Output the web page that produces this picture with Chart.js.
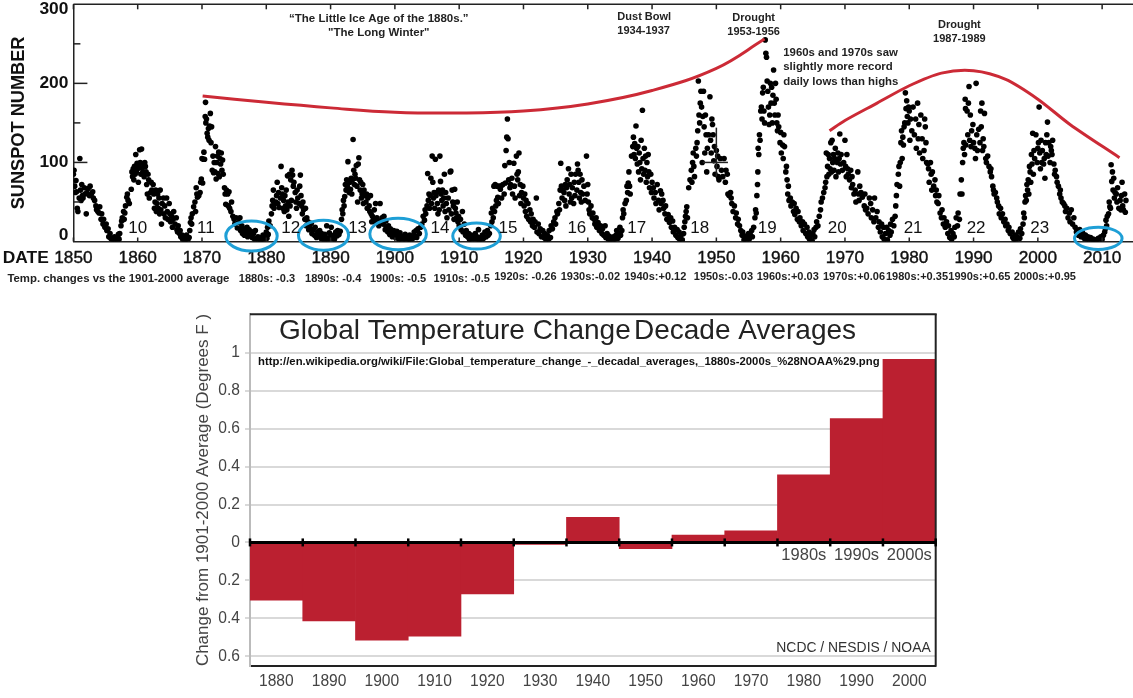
<!DOCTYPE html>
<html>
<head>
<meta charset="utf-8">
<title>Sunspot number and global temperature change</title>
<script src="https://cdn.jsdelivr.net/npm/chart.js@4"></script>
<style>
  body { margin: 0; background: #fff; }
  canvas { position: absolute; left: 0; }
  #sunspot-chart { top: 0; }
  #temp-chart { top: 300px; }
</style>
</head>
<body>
<canvas id="sunspot-chart" width="1133" height="300"></canvas>
<canvas id="temp-chart" width="1133" height="398"></canvas>
<script>
// year, value, year, value ..., one list per solar cycle
var spots09 = [1850.0,85,1850.1,90,1850.2,70,1850.3,62,1850.4,77,1850.5,63,1850.6,42,1850.7,38,1850.9,55,1851.0,105,1851.1,65,1851.2,52,1851.3,72,1851.4,58,1851.5,55,1851.7,68,1851.8,60,1852.0,35,1852.1,62,1852.3,67,1852.5,58,1852.6,70,1852.8,60,1853.0,63,1853.1,55,1853.3,52,1853.5,45,1853.6,40,1853.8,38,1854.0,36,1854.1,44,1854.3,28,1854.4,35,1854.6,22,1854.7,28,1854.9,18,1855.1,22,1855.2,14,1855.4,16,1855.5,6,1855.7,10,1855.8,4,1856.0,3,1856.2,1,1856.4,6,1856.5,2,1856.7,5,1856.9,2,1857.0,9,1857.1,3];
var spots10 = [1857.2,10,1857.4,20,1857.5,26,1857.6,30,1857.8,38,1857.9,28,1858.0,36,1858.1,45,1858.3,56,1858.4,60,1858.5,52,1858.7,48,1859.0,66,1859.1,88,1859.2,82,1859.3,92,1859.4,78,1859.5,95,1859.6,85,1859.7,110,1859.8,88,1859.9,99,1860.0,92,1860.1,75,1860.2,96,1860.3,116,1860.4,100,1860.5,85,1860.6,117,1860.7,93,1860.8,88,1860.9,98,1861.0,82,1861.1,100,1861.2,95,1861.3,88,1861.4,72,1861.5,60,1861.6,85,1861.7,78,1861.8,55,1862.0,62,1862.1,75,1862.2,65,1862.4,72,1862.5,60,1862.6,42,1862.7,50,1862.8,65,1862.9,38,1863.0,48,1863.1,60,1863.2,42,1863.3,55,1863.4,35,1863.5,65,1863.6,40,1863.7,22,1863.8,48,1864.0,55,1864.1,35,1864.2,45,1864.3,30,1864.5,55,1864.6,38,1864.7,28,1864.9,48,1865.0,35,1865.1,25,1865.3,32,1865.4,18,1865.5,28,1865.6,38,1865.8,22,1866.0,30,1866.1,15,1866.2,12,1866.3,20,1866.5,10,1866.6,14,1866.7,6,1866.9,8,1867.0,3,1867.2,6,1867.3,1,1867.5,3,1867.6,8,1867.8,2];
var spots11 = [1868.0,5,1868.1,14,1868.2,24,1868.3,30,1868.4,22,1868.5,35,1868.7,44,1868.9,50,1869.0,38,1869.1,68,1869.2,60,1869.3,56,1869.5,58,1869.7,62,1869.8,75,1869.9,79,1870.0,105,1870.1,74,1870.2,104,1870.3,113,1870.4,104,1870.5,158,1870.55,176,1870.6,150,1870.7,155,1870.8,137,1870.9,132,1871.0,143,1871.1,128,1871.2,146,1871.3,162,1871.4,125,1871.5,145,1871.6,90,1871.7,108,1871.8,87,1871.9,100,1872.0,88,1872.1,120,1872.2,79,1872.3,100,1872.4,108,1872.5,86,1872.6,113,1872.7,82,1872.8,105,1872.9,98,1873.0,112,1873.1,90,1873.2,103,1873.3,85,1873.5,68,1873.6,60,1873.7,47,1873.8,65,1874.0,60,1874.1,45,1874.2,63,1874.3,42,1874.5,38,1874.6,50,1874.8,32,1875.0,28,1875.1,22,1875.3,30,1875.5,17,1875.7,24,1875.9,30,1876.0,14,1876.2,20,1876.3,10,1876.5,16,1876.6,8,1876.8,12,1877.0,18,1877.1,6,1877.3,15,1877.4,9,1877.6,13,1877.8,5,1878.0,10,1878.2,3,1878.3,14,1878.5,4,1878.7,6,1878.8,2,1879.0,5,1879.1,1,1879.3,3,1879.5,8,1879.6,2,1879.8,7,1880.0,12,1880.1,4,1880.2,18,1880.3,9];
var spots12 = [1880.4,26,1880.6,20,1880.8,35,1880.9,45,1881.0,52,1881.1,65,1881.2,42,1881.3,48,1881.5,50,1881.6,58,1881.7,75,1881.8,48,1881.9,62,1882.0,43,1882.2,55,1882.3,95,1882.4,68,1882.5,60,1882.6,42,1882.7,52,1882.8,38,1882.9,58,1883.0,45,1883.1,65,1883.2,40,1883.3,83,1883.4,50,1883.5,32,1883.6,85,1883.7,45,1883.8,78,1883.9,52,1884.0,90,1884.1,84,1884.2,70,1884.3,75,1884.5,62,1884.6,50,1884.7,42,1884.8,65,1884.9,55,1885.1,48,1885.2,70,1885.3,84,1885.4,58,1885.5,45,1885.6,35,1885.7,50,1885.8,40,1886.0,28,1886.1,42,1886.2,20,1886.3,30,1886.5,25,1886.6,15,1886.8,18,1887.0,23,1887.1,10,1887.3,15,1887.5,8,1887.6,18,1887.8,5,1888.0,12,1888.1,7,1888.3,14,1888.5,4,1888.6,10,1888.8,6,1889.0,2,1889.1,9,1889.3,5,1889.4,20,1889.6,3,1889.8,11,1890.0,6,1890.1,18,1890.3,4,1890.5,8,1890.6,3,1890.8,12,1891.0,7,1891.1,14,1891.3,9,1891.5,13];
var spots13 = [1891.7,28,1891.8,40,1891.9,35,1892.0,52,1892.1,45,1892.2,57,1892.3,72,1892.4,65,1892.5,78,1892.6,70,1892.7,101,1892.9,62,1893.0,75,1893.1,66,1893.2,80,1893.3,60,1893.4,78,1893.5,129,1893.6,90,1893.7,72,1893.8,85,1893.9,80,1894.0,96,1894.1,70,1894.2,50,1894.3,98,1894.4,106,1894.5,78,1894.6,65,1894.7,75,1894.8,55,1894.9,60,1895.0,72,1895.1,48,1895.2,65,1895.3,58,1895.5,50,1895.6,60,1895.7,42,1895.8,55,1896.0,45,1896.1,38,1896.2,58,1896.3,35,1896.4,25,1896.5,32,1896.7,28,1896.8,40,1896.9,25,1897.0,48,1897.2,30,1897.4,26,1897.5,20,1897.7,48,1897.8,26,1898.0,30,1898.2,22,1898.3,32,1898.5,15,1898.6,26,1898.7,18,1898.9,12,1899.0,20,1899.2,9,1899.3,16,1899.5,12,1899.6,6,1899.8,14,1900.0,10,1900.1,5,1900.3,13,1900.5,8,1900.6,3,1900.8,11,1901.0,6,1901.1,2,1901.3,7,1901.5,4,1901.6,9,1901.8,1,1902.0,5,1902.2,3,1902.3,8,1902.5,2,1902.7,6,1902.8,4,1903.0,12,1903.1,7,1903.3,14,1903.4,5,1903.6,16,1903.8,10,1904.0,18];
var spots14 = [1904.2,22,1904.4,32,1904.6,27,1904.7,40,1904.8,35,1905.0,45,1905.1,86,1905.2,52,1905.3,60,1905.4,42,1905.5,58,1905.6,80,1905.7,48,1905.8,108,1905.9,75,1906.0,55,1906.1,62,1906.2,42,1906.3,104,1906.4,58,1906.5,62,1906.6,48,1906.7,35,1906.8,65,1906.9,40,1907.0,108,1907.1,76,1907.2,60,1907.3,52,1907.4,65,1907.5,45,1907.6,55,1907.7,85,1907.8,38,1907.9,62,1908.0,48,1908.1,30,1908.3,55,1908.4,40,1908.6,88,1908.7,89,1908.8,35,1908.9,65,1909.0,50,1909.1,45,1909.2,28,1909.3,66,1909.4,42,1909.5,36,1909.6,30,1909.7,50,1909.8,25,1909.9,32,1910.0,20,1910.2,28,1910.3,15,1910.5,38,1910.6,12,1910.8,22,1911.0,8,1911.1,14,1911.3,6,1911.5,10,1911.6,3,1911.8,8,1912.0,2,1912.2,7,1912.3,4,1912.5,10,1912.7,3,1912.8,6,1913.0,15,1913.1,2,1913.3,5,1913.4,1,1913.6,8,1913.8,4,1914.0,12,1914.2,6,1914.4,14,1914.5,8,1914.7,10];
var spots15 = [1914.9,20,1915.0,36,1915.1,25,1915.2,42,1915.3,30,1915.4,70,1915.5,38,1915.6,72,1915.7,45,1915.8,52,1915.9,70,1916.0,56,1916.1,48,1916.2,70,1916.4,66,1916.5,70,1916.6,55,1916.8,72,1917.0,60,1917.1,96,1917.2,74,1917.3,115,1917.4,132,1917.5,155,1917.6,130,1917.7,78,1917.8,100,1917.9,68,1918.0,72,1918.2,80,1918.3,60,1918.5,99,1918.6,70,1918.7,55,1918.9,108,1919.0,85,1919.1,78,1919.2,88,1919.3,112,1919.4,58,1919.5,72,1919.6,48,1919.7,62,1919.9,70,1920.0,55,1920.1,45,1920.2,60,1920.3,38,1920.4,52,1920.5,32,1920.7,48,1920.8,28,1921.0,40,1921.1,25,1921.2,35,1921.4,20,1921.5,28,1921.7,18,1921.8,25,1922.0,55,1922.1,12,1922.3,22,1922.4,10,1922.6,16,1922.8,6,1923.0,14,1923.2,5,1923.3,10,1923.5,2,1923.7,8,1923.9,3,1924.0,14,1924.2,5,1924.3,20];
var spots16 = [1924.5,16,1924.7,25,1924.9,30,1925.0,22,1925.2,38,1925.3,35,1925.5,48,1925.6,40,1925.7,65,1925.8,99,1925.9,70,1926.0,55,1926.1,65,1926.3,62,1926.4,52,1926.5,72,1926.6,45,1926.7,68,1926.8,78,1927.0,92,1927.1,60,1927.2,72,1927.3,50,1927.4,85,1927.5,55,1927.6,68,1927.8,48,1927.9,75,1928.0,58,1928.1,85,1928.3,65,1928.4,98,1928.5,90,1928.6,75,1928.7,55,1928.8,85,1928.9,62,1929.0,50,1929.1,78,1929.2,60,1929.4,70,1929.6,52,1929.8,108,1929.9,60,1930.0,72,1930.1,50,1930.2,40,1930.3,35,1930.5,45,1930.7,30,1930.8,36,1931.0,28,1931.1,22,1931.3,30,1931.4,18,1931.6,24,1931.8,14,1932.0,20,1932.2,10,1932.3,16,1932.5,8,1932.7,20,1932.8,5,1933.0,10,1933.2,3,1933.3,7,1933.5,2,1933.7,5,1933.9,1,1934.0,6,1934.2,3,1934.4,8,1934.5,14,1934.7,4,1934.8,10,1935.0,18,1935.1,8,1935.3,14];
var spots17 = [1935.4,30,1935.5,40,1935.6,35,1935.8,48,1936.0,52,1936.1,70,1936.2,62,1936.3,74,1936.4,88,1936.5,70,1936.6,60,1936.8,108,1937.0,120,1937.1,132,1937.2,110,1937.3,124,1937.4,105,1937.5,146,1937.6,118,1937.7,98,1937.8,120,1937.9,88,1938.0,112,1938.1,100,1938.2,78,1938.3,128,1938.4,92,1938.5,166,1938.6,105,1938.7,85,1938.8,118,1938.9,90,1939.0,108,1939.1,75,1939.2,100,1939.3,82,1939.4,110,1939.5,88,1939.6,68,1939.8,85,1939.9,62,1940.0,75,1940.2,68,1940.3,55,1940.5,62,1940.6,48,1940.8,72,1941.0,52,1941.1,40,1941.3,64,1941.4,48,1941.5,60,1941.7,52,1941.8,42,1942.0,35,1942.1,45,1942.3,28,1942.5,34,1942.7,24,1942.9,30,1943.0,18,1943.2,26,1943.3,12,1943.5,18,1943.7,8,1943.9,15,1944.0,5,1944.2,12,1944.3,3,1944.5,8,1944.7,2];
var spots18 = [1944.9,10,1945.0,18,1945.1,25,1945.2,32,1945.3,38,1945.4,44,1945.5,30,1945.7,68,1945.9,78,1946.1,90,1946.2,75,1946.3,100,1946.4,112,1946.5,95,1946.6,82,1946.8,118,1946.9,108,1947.0,125,1947.1,140,1947.2,203,1947.3,160,1947.4,150,1947.5,175,1947.6,190,1947.7,170,1947.8,100,1947.9,158,1948.0,190,1948.1,145,1948.2,112,1948.3,160,1948.4,135,1948.5,88,1948.6,118,1948.8,135,1949.0,183,1949.1,128,1949.2,112,1949.3,155,1949.4,148,1949.5,135,1949.6,102,1949.7,120,1949.8,85,1950.0,115,1950.1,95,1950.2,108,1950.3,82,1950.4,78,1950.6,105,1950.8,90,1951.0,82,1951.2,105,1951.4,75,1951.5,90,1951.7,85,1951.8,60,1952.0,58,1952.2,62,1952.3,55,1952.4,48,1952.6,38,1952.8,45,1953.0,30,1953.1,36,1953.3,22,1953.4,28,1953.6,20,1953.8,14,1954.0,8,1954.1,12,1954.3,2,1954.5,7,1954.6,0,1954.8,5,1955.0,10,1955.1,3,1955.3,8,1955.5,14,1955.6,6,1955.8,18];
var spots19 = [1956.0,30,1956.1,40,1956.2,36,1956.3,58,1956.4,72,1956.45,88,1956.5,118,1956.6,110,1956.7,135,1956.8,128,1956.9,165,1957.0,170,1957.1,155,1957.2,188,1957.3,195,1957.4,165,1957.5,150,1957.6,255,1957.7,238,1957.8,233,1957.9,203,1958.0,190,1958.1,170,1958.2,148,1958.3,160,1958.4,200,1958.5,175,1958.6,195,1958.7,150,1958.8,185,1958.9,217,1959.0,175,1959.1,160,1959.2,200,1959.3,180,1959.4,150,1959.5,140,1959.6,160,1959.7,145,1959.9,125,1960.0,138,1960.1,112,1960.3,122,1960.4,105,1960.5,135,1960.6,120,1960.8,88,1960.9,95,1961.0,78,1961.1,60,1961.2,70,1961.3,52,1961.5,55,1961.6,45,1961.8,50,1962.0,38,1962.1,48,1962.2,34,1962.4,42,1962.6,28,1962.7,38,1962.9,25,1963.0,30,1963.2,20,1963.4,25,1963.5,14,1963.7,22,1963.9,10,1964.1,18,1964.2,6,1964.4,12,1964.5,3,1964.7,8,1964.9,1,1965.0,10,1965.2,15,1965.3,6,1965.5,18,1965.6,25,1965.8,20];
var spots20 = [1966.0,32,1966.2,40,1966.3,50,1966.5,55,1966.7,62,1966.9,68,1967.0,75,1967.1,112,1967.2,82,1967.3,95,1967.4,110,1967.5,85,1967.6,105,1967.7,92,1967.8,125,1967.9,88,1968.0,128,1968.1,100,1968.2,110,1968.3,90,1968.4,105,1968.5,118,1968.6,82,1968.8,100,1968.9,112,1969.0,88,1969.1,105,1969.2,136,1969.3,98,1969.4,110,1969.6,90,1969.8,100,1970.0,128,1970.1,95,1970.2,82,1970.3,110,1970.4,92,1970.5,85,1970.7,78,1970.9,90,1971.0,68,1971.1,82,1971.2,72,1971.4,60,1971.6,65,1971.7,50,1972.0,88,1972.1,60,1972.2,52,1972.3,70,1972.5,62,1972.7,56,1973.0,45,1973.1,60,1973.2,40,1973.4,42,1973.6,35,1973.8,55,1974.0,48,1974.1,30,1974.3,40,1974.5,25,1974.6,55,1974.8,30,1975.0,38,1975.2,18,1975.3,25,1975.5,12,1975.7,22,1975.8,6,1976.0,18,1976.1,3,1976.3,10,1976.5,18,1976.6,2,1976.8,14,1977.0,8,1977.1,22,1977.2,12,1977.4,28,1977.6,20];
var spots21 = [1977.8,32,1977.9,45,1978.0,58,1978.1,72,1978.3,85,1978.4,95,1978.5,70,1978.6,100,1978.7,125,1978.8,140,1978.9,105,1979.0,132,1979.1,122,1979.2,145,1979.3,150,1979.4,188,1979.5,168,1979.6,178,1979.7,158,1979.8,150,1979.9,170,1980.0,165,1980.1,128,1980.2,155,1980.4,140,1980.6,170,1980.8,135,1981.0,155,1981.1,118,1981.3,175,1981.4,130,1981.5,148,1981.6,112,1981.8,160,1982.0,130,1982.1,105,1982.3,115,1982.4,155,1982.5,145,1982.6,125,1982.7,100,1982.9,98,1983.0,92,1983.1,75,1983.3,100,1983.4,85,1983.5,65,1983.6,88,1983.8,70,1984.0,78,1984.1,58,1984.2,65,1984.3,50,1984.5,48,1984.6,58,1984.8,36,1985.0,30,1985.1,40,1985.3,22,1985.4,30,1985.6,18,1985.8,25,1986.0,10,1986.1,20,1986.3,5,1986.5,14,1986.6,3,1986.8,10,1987.0,6,1987.1,18,1987.3,30,1987.5,20,1987.6,36,1987.8,28,1987.9,60];
var spots22 = [1988.1,78,1988.2,60,1988.3,100,1988.4,118,1988.5,125,1988.6,110,1988.7,180,1988.75,168,1988.8,122,1989.0,165,1989.1,135,1989.2,175,1989.3,196,1989.4,128,1989.5,160,1989.6,120,1989.7,140,1989.9,148,1990.0,125,1990.2,118,1990.3,105,1990.4,200,1990.5,135,1990.6,115,1990.8,142,1991.0,125,1991.1,165,1991.2,145,1991.3,175,1991.4,115,1991.5,130,1991.6,120,1991.7,162,1991.9,105,1992.0,100,1992.2,108,1992.4,95,1992.6,88,1992.7,92,1992.8,82,1993.0,70,1993.1,65,1993.2,60,1993.4,62,1993.6,55,1993.7,50,1993.9,45,1994.0,35,1994.2,42,1994.3,30,1994.5,35,1994.7,25,1994.9,28,1995.0,20,1995.2,22,1995.4,14,1995.5,18,1995.7,10,1996.0,12,1996.1,5,1996.3,3,1996.5,8,1996.6,1,1996.8,6,1997.0,12,1997.2,4,1997.3,16,1997.5,10];
var spots23 = [1997.7,22,1997.8,36,1997.9,30,1998.0,50,1998.1,58,1998.2,52,1998.3,72,1998.4,65,1998.5,78,1998.6,60,1998.7,95,1998.8,88,1998.9,75,1999.0,110,1999.1,98,1999.2,137,1999.3,85,1999.4,115,1999.5,105,1999.7,135,1999.9,100,2000.0,118,2000.1,125,2000.2,170,2000.3,112,2000.4,92,2000.5,128,2000.6,100,2000.7,115,2000.9,98,2001.0,105,2001.1,80,2001.2,125,2001.3,110,2001.4,135,2001.5,151,2001.6,108,2001.7,125,2001.9,100,2002.0,120,2002.1,115,2002.2,110,2002.3,128,2002.5,98,2002.6,85,2002.7,90,2002.9,82,2003.0,75,2003.2,70,2003.4,60,2003.5,65,2003.6,55,2003.8,50,2004.0,48,2004.2,45,2004.3,38,2004.5,42,2004.7,30,2004.9,36,2005.0,25,2005.2,40,2005.4,22,2005.6,30,2005.8,18,2006.0,12,2006.1,14,2006.3,8,2006.5,15,2006.7,6,2006.9,12,2007.0,10,2007.2,4,2007.4,8,2007.6,3,2007.8,6,2008.0,2,2008.2,5,2008.4,1,2008.6,3,2008.8,2,2009.0,1,2009.2,2,2009.4,4,2009.6,2,2009.8,6,2010.0,3,2010.2,8,2010.4,12];
var spots24 = [2010.5,16,2010.6,27,2010.7,20,2010.8,32,2011.0,35,2011.1,50,2011.2,44,2011.3,42,2011.4,97,2011.5,76,2011.6,88,2011.7,65,2011.8,80,2011.9,55,2012.0,62,2012.2,60,2012.3,50,2012.4,68,2012.6,42,2012.8,52,2012.9,40,2013.0,58,2013.1,75,2013.2,45,2013.3,40,2013.5,60,2013.6,37,2013.7,52];

// the two red curves sketched over the cycle peaks
var redCurveOld = [[1870.1,184],[1880,176],[1890,169],[1900,163.5],[1910,162.5],[1920,165],[1930,174],[1940,191],[1950,219],[1957.5,256]];
var redCurveNew = [[1967.6,140],[1970,153],[1975,175],[1980,197],[1985,213],[1990,216],[1995,205],[2000,180],[2005,148],[2012.7,106]];

var yTickLabels = [0, 100, 200, 300];
var yMajorTicks = [100, 200];
var yMinorTicks = [50, 150, 250];
var cycleNames = ['10','11','12','13','14','15','16','17','18','19','20','21','22','23'];
var cycleYears = [1860,1870.6,1883.8,1894.2,1907,1917.6,1928.3,1937.6,1947.4,1957.9,1968.8,1980.6,1990.4,2000.3];
var tempNotes = ['1880s: -0.3','1890s: -0.4','1900s: -0.5','1910s: -0.5','1920s: -0.26','1930s:-0.02','1940s:+0.12','1950s:-0.03','1960s:+0.03','1970s:+0.06','1980s:+0.35','1990s:+0.65','2000s:+0.95'];
var tempNoteYears = [1880.1,1890.4,1900.5,1910.4,1920.3,1930.4,1940.5,1951.1,1961.1,1971.4,1981.2,1990.9,2001.1];
var tempNoteLevels = [-47,-47,-47,-47,-45,-45,-45,-45,-45,-45,-45,-45,-45];
// centre year, centre value, half width in years, half height in value
var lowRings = [[1877.7,7,4,19],[1888.9,8,3.9,19],[1900.5,9.5,4.4,20],[1912.7,7,3.7,16.5],[2009.4,4,3.7,14]];

var decades = ['1880','1890','1900','1910','1920','1930','1940','1950','1960','1970','1980','1990','2000'];
var decadeChange = [-0.305,-0.414,-0.516,-0.494,-0.272,-0.01,0.133,-0.033,0.039,0.061,0.356,0.653,0.965];
var changeTicks = [-0.6,-0.4,-0.2,0,0.2,0.4,0.6,0.8,1];

var sansFont = "'Liberation Sans', Arial, sans-serif";

function pairs( flat ) {
  var out = [];
  for (var i = 0; i < flat.length; i += 2) {
    out.push( [flat[i], flat[i+1]] );
  }
  return out;
}

function putText( ctx, str, x, y, font, color, align ) {
  ctx.font = font;
  ctx.fillStyle = color;
  ctx.textAlign = align || 'center';
  ctx.textBaseline = 'middle';
  ctx.fillText( str, x, y );
}

function segment( ctx, x1, y1, x2, y2 ) {
  ctx.beginPath();
  ctx.moveTo( x1, y1 );
  ctx.lineTo( x2, y2 );
  ctx.stroke();
}

var sunspotExtras = {
  id: 'sunspotExtras',
  afterDraw: function( chart ) {
    var ctx = chart.ctx, xs = chart.scales.x, ys = chart.scales.y, area = chart.chartArea;
    var boldNote = 'bold 11px ' + sansFont;
    var boldHead = 'bold 11.4px ' + sansFont;
    ctx.save();

    // frame and inward ticks
    ctx.strokeStyle = '#222';
    ctx.lineWidth = 1.5;
    segment( ctx, area.left, area.top, area.right, area.top );
    yMajorTicks.forEach(function( v ) {
      segment( ctx, area.left, ys.getPixelForValue(v), area.left + 14, ys.getPixelForValue(v) );
    });
    yMinorTicks.forEach(function( v ) {
      segment( ctx, area.left, ys.getPixelForValue(v), area.left + 7, ys.getPixelForValue(v) );
    });
    xs.ticks.forEach(function( t ) {
      var px = xs.getPixelForValue( t.value );
      segment( ctx, px, area.top, px, area.top + 5 );
      segment( ctx, px, area.bottom, px, area.bottom - 4 );
    });
    // stray cross left on the 1950 peak in the original
    segment( ctx, xs.getPixelForValue(1950), ys.getPixelForValue(144), xs.getPixelForValue(1950), ys.getPixelForValue(82) );
    segment( ctx, xs.getPixelForValue(1947.9), ys.getPixelForValue(100), xs.getPixelForValue(1951.8), ys.getPixelForValue(100) );

    // blue rings around the quiet minima
    ctx.strokeStyle = '#1e9fd6';
    ctx.lineWidth = 3;
    lowRings.forEach(function( r ) {
      var cx = xs.getPixelForValue( r[0] ), cy = ys.getPixelForValue( r[1] );
      var rx = xs.getPixelForValue( r[0] + r[2] ) - cx, ry = cy - ys.getPixelForValue( r[1] + r[3] );
      ctx.beginPath();
      ctx.ellipse( cx, cy, rx, ry, 0, 0, Math.PI * 2 );
      ctx.stroke();
    });

    // y labels, the end ones pulled inside the frame like the original
    yTickLabels.forEach(function( v ) {
      var dy = v == 0 ? -6 : (v == 300 ? 5 : 0);
      putText( ctx, String(v), area.left - 5, ys.getPixelForValue(v) + dy, 'bold 17.4px ' + sansFont, '#111', 'right' );
    });
    putText( ctx, 'DATE', xs.getPixelForValue(1842.6), ys.getPixelForValue(-21), 'bold 17.4px ' + sansFont, '#111' );

    cycleNames.forEach(function( name, i ) {
      putText( ctx, name, xs.getPixelForValue(cycleYears[i]), ys.getPixelForValue(17), '17px ' + sansFont, '#111' );
    });
    putText( ctx, 'Temp. changes vs the 1901-2000 average', xs.getPixelForValue(1857), ys.getPixelForValue(-47), boldHead, '#222' );
    tempNotes.forEach(function( note, i ) {
      putText( ctx, note, xs.getPixelForValue(tempNoteYears[i]), ys.getPixelForValue(tempNoteLevels[i]), boldNote, '#222' );
    });

    putText( ctx, '\u201CThe Little Ice Age of the 1880s.\u201D', xs.getPixelForValue(1897.5), ys.getPixelForValue(281.6), 'bold 11.5px ' + sansFont, '#222' );
    putText( ctx, '"The Long Winter"', xs.getPixelForValue(1897.5), ys.getPixelForValue(263.9), 'bold 11.5px ' + sansFont, '#222' );
    putText( ctx, 'Dust Bowl', xs.getPixelForValue(1934.6), ys.getPixelForValue(284), boldNote, '#222', 'left' );
    putText( ctx, '1934-1937', xs.getPixelForValue(1934.6), ys.getPixelForValue(266.5), boldNote, '#222', 'left' );
    putText( ctx, 'Drought', xs.getPixelForValue(1955.8), ys.getPixelForValue(283), boldNote, '#222' );
    putText( ctx, '1953-1956', xs.getPixelForValue(1955.8), ys.getPixelForValue(265), boldNote, '#222' );
    putText( ctx, 'Drought', xs.getPixelForValue(1987.8), ys.getPixelForValue(274), boldNote, '#222' );
    putText( ctx, '1987-1989', xs.getPixelForValue(1987.8), ys.getPixelForValue(256), boldNote, '#222' );
    putText( ctx, '1960s and 1970s saw', xs.getPixelForValue(1960.4), ys.getPixelForValue(238), boldHead, '#222', 'left' );
    putText( ctx, 'slightly more record', xs.getPixelForValue(1960.4), ys.getPixelForValue(220.5), boldHead, '#222', 'left' );
    putText( ctx, 'daily lows than highs', xs.getPixelForValue(1960.4), ys.getPixelForValue(202), boldHead, '#222', 'left' );
    ctx.restore();
  }
};

var sunspotChart = new Chart(
  document.getElementById('sunspot-chart').getContext('2d'),
  {
    type: 'scatter',
    data: {
      datasets: [
        {
          data: pairs( [].concat( spots09, spots10, spots11, spots12, spots13, spots14, spots15, spots16, spots17, spots18, spots19, spots20, spots21, spots22, spots23, spots24 ) ),
          backgroundColor: '#000',
          borderWidth: 0,
          pointRadius: 2.8,
          order: 2
        },
        {
          data: redCurveOld,
          showLine: true,
          borderColor: '#cc2a36',
          borderWidth: 3,
          tension: 0.4,
          pointRadius: 0,
          order: 1
        },
        {
          data: redCurveNew,
          showLine: true,
          borderColor: '#cc2a36',
          borderWidth: 3,
          tension: 0.3,
          pointRadius: 0,
          order: 1
        }
      ]
    },
    options: {
      responsive: false,
      animation: false,
      layout: { autoPadding: false, padding: { top: 4.3 } },
      plugins: { legend: { display: false }, tooltip: { enabled: false } },
      scales: {
        x: {
          type: 'linear',
          min: 1850,
          max: 2014.8,
          afterFit: function( scale ) {
            scale.height = 58.5;
            scale.paddingLeft = 0;
            scale.paddingRight = 0;
          },
          grid: { display: false, drawTicks: false },
          border: { color: '#222', width: 1.5 },
          ticks: {
            stepSize: 10,
            includeBounds: false,
            maxRotation: 0,
            autoSkip: false,
            padding: 6,
            color: '#111',
            font: { family: sansFont, size: 17.2 },
            textStrokeColor: '#111',
            textStrokeWidth: 0.4,
            callback: function( v ) { return String(v); }
          }
        },
        y: {
          min: 0,
          max: 300,
          afterFit: function( scale ) { scale.width = 73.4; },
          grid: { display: false, drawTicks: false },
          border: { color: '#222', width: 1.5 },
          ticks: { display: false },
          title: {
            display: true,
            text: 'SUNSPOT NUMBER',
            color: '#111',
            font: { family: sansFont, size: 18.2, weight: 'bold' },
            padding: { top: 8, bottom: 0 }
          }
        }
      }
    },
    plugins: [ sunspotExtras ]
  }
);

var tempExtras = {
  id: 'tempExtras',
  afterDraw: function( chart ) {
    var ctx = chart.ctx, xs = chart.scales.x, ys = chart.scales.y, area = chart.chartArea;
    var zero = ys.getPixelForValue( 0 );
    ctx.save();

    // top and right sides of the frame
    ctx.strokeStyle = '#222';
    ctx.lineWidth = 2;
    segment( ctx, area.left, area.top, area.right + 1, area.top );
    segment( ctx, area.right, area.top, area.right, area.bottom + 1 );

    // zero line with a tick on every bar edge
    ctx.strokeStyle = '#000';
    ctx.lineWidth = 3;
    segment( ctx, area.left - 1, zero, area.right, zero );
    ctx.lineWidth = 2.5;
    for (var i = 0; i <= decades.length; i++) {
      var edge = xs.getPixelForValue( i - 0.5 );
      segment( ctx, edge, zero - 4, edge, zero + 4 );
    }

    var labelled = ['1980', '1990', '2000'];
    labelled.forEach(function( d ) {
      putText( ctx, d + 's', xs.getPixelForValue( decades.indexOf(d) ), ys.getPixelForValue(-0.07), '16.5px ' + sansFont, '#444' );
    });

    putText( ctx, 'Global Temperature Change', area.left + 29, area.top + 17, '28px ' + sansFont, '#222', 'left' );
    putText( ctx, 'Decade Averages', area.left + 384, area.top + 17, '28px ' + sansFont, '#222', 'left' );
    putText( ctx, 'http://en.wikipedia.org/wiki/File:Global_temperature_change_-_decadal_averages,_1880s-2000s_%28NOAA%29.png',
      area.left + 8, ys.getPixelForValue(0.951), 'bold 11.3px ' + sansFont, '#111', 'left' );
    putText( ctx, 'NCDC / NESDIS / NOAA', area.right - 5, ys.getPixelForValue(-0.559), '13.9px ' + sansFont, '#333', 'right' );
    ctx.restore();
  }
};

var tempChart = new Chart(
  document.getElementById('temp-chart').getContext('2d'),
  {
    type: 'bar',
    data: {
      labels: decades,
      datasets: [{
        data: decadeChange,
        backgroundColor: '#bb2030',
        barPercentage: 1,
        categoryPercentage: 1
      }]
    },
    options: {
      responsive: false,
      animation: false,
      layout: { padding: { top: 12, right: 197.3 } },
      plugins: { legend: { display: false }, tooltip: { enabled: false } },
      scales: {
        x: {
          afterFit: function( scale ) { scale.height = 32.3; },
          grid: { display: false, drawTicks: false },
          border: { color: '#222', width: 2 },
          ticks: {
            padding: 7,
            color: '#444',
            maxRotation: 0,
            font: { family: sansFont, size: 15.6 }
          }
        },
        y: {
          min: -0.65,
          max: 1.2026,
          afterFit: function( scale ) { scale.width = 250; },
          afterBuildTicks: function( scale ) {
            scale.ticks = changeTicks.map(function( v ) { return { value: v }; });
          },
          grid: { color: '#d9d9d9', lineWidth: 2, tickLength: 5 },
          border: { color: '#bbb', width: 2 },
          ticks: {
            padding: 5,
            color: '#444',
            font: { family: sansFont, size: 15.6 },
            callback: function( v ) { return String( Math.abs(v) ); }
          },
          title: {
            display: true,
            text: 'Change from 1901-2000 Average (Degrees F )',
            color: '#444',
            font: { family: sansFont, size: 17 },
            padding: { top: 192.7, bottom: 0 }
          }
        }
      }
    },
    plugins: [ tempExtras ]
  }
);
</script>
</body>
</html>
